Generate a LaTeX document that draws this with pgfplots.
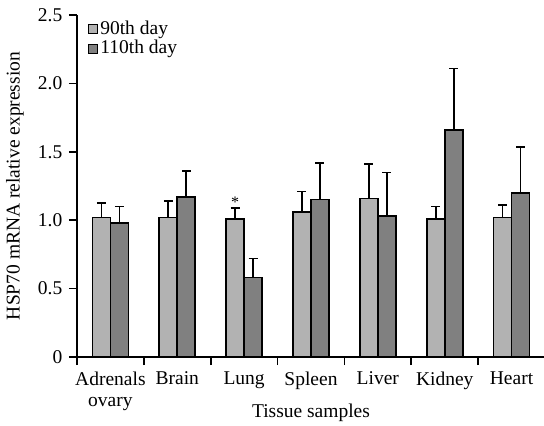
\documentclass[border=0pt]{standalone}
\usepackage{fontspec}
\setmainfont{Liberation Serif}
\usepackage{pgfplots}
\pgfplotsset{compat=1.18}
\definecolor{lightbar}{RGB}{178,178,178}
\definecolor{darkbar}{RGB}{128,128,128}
\begin{document}
\fontsize{19.5}{21}\selectfont
\begin{tikzpicture}
\begin{axis}[
  scale only axis, width=468pt, height=342pt,
  xmin=-0.5, xmax=6.5, ymin=0, ymax=2.5,
  ybar=0pt, bar width=18pt,
  axis x line*=bottom, axis y line*=left,
  axis line style={line width=1.6pt},
  every tick/.style={black, line width=1.6pt},
  tick align=outside, major tick length=8pt, minor tick length=8pt,
  xtick={0,...,6},
  xticklabels={{Adrenals\\ovary},Brain,Lung,Spleen,Liver,Kidney,Heart},
  xticklabel style={align=center, font=\fontsize{19.5}{21}\selectfont},
  major x tick style={draw=none},
  minor xtick={-0.5,0.5,...,5.5},
  ytick={0,0.5,1.0,1.5,2.0,2.5},
  yticklabels={0,0.5,1.0,1.5,2.0,2.5},
  yticklabel style={font=\fontsize{19.5}{21}\selectfont},
  ylabel={HSP70 mRNA relative expression},
  xlabel={Tissue samples},
  ylabel style={at={(axis description cs:-0.1325,0.5)}, anchor=center, font=\fontsize{19.5}{21}\selectfont},
  xlabel style={at={(axis description cs:0.5,-0.164)}, anchor=center, font=\fontsize{19.5}{21}\selectfont},
  error bars/y dir=plus, error bars/y explicit,
  error bars/error mark options={rotate=90, mark size=4.5pt, line width=1.6pt, black},
  error bars/error bar style={line width=1.6pt, black},
  legend style={draw=none, fill=none, at={(0.0214,0.992)}, anchor=north west,
    font=\fontsize{19.5}{21}\selectfont, row sep=-1pt, inner sep=1pt},
  legend cell align=left,
  legend image code/.code={\draw[#1, line width=1.1pt] (0pt,-4.5pt) rectangle (9pt,4.5pt);},
]
\addplot[fill=lightbar, draw=black, line width=1.6pt] coordinates {
  (0,1.02) +- (0,0.105)
  (1,1.02) +- (0,0.12)
  (2,1.01) +- (0,0.08)
  (3,1.06) +- (0,0.15)
  (4,1.16) +- (0,0.25)
  (5,1.01) +- (0,0.09)
  (6,1.02) +- (0,0.09)
};
\addplot[fill=darkbar, draw=black, line width=1.6pt] coordinates {
  (0,0.98) +- (0,0.12)
  (1,1.17) +- (0,0.19)
  (2,0.58) +- (0,0.14)
  (3,1.15) +- (0,0.27)
  (4,1.03) +- (0,0.32)
  (5,1.66) +- (0,0.45)
  (6,1.20) +- (0,0.335)
};
\legend{90th day,110th day}
\node[font=\fontsize{16}{18}\selectfont, inner sep=0pt] at (axis cs:1.866,1.133) {*};
\end{axis}
\pgfresetboundingbox
\path[use as bounding box] ([shift={(-77pt,-69pt)}]current axis.south west) rectangle ([shift={(467pt,357pt)}]current axis.south west);
\end{tikzpicture}
\end{document}
